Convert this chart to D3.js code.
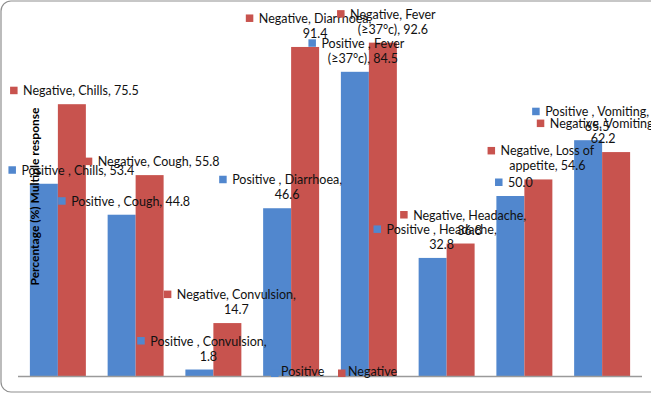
<!DOCTYPE html>
<html><head><meta charset="utf-8">
<script src="https://cdn.jsdelivr.net/npm/d3@7"></script>
<style>body{margin:0;background:#fff}svg{display:block}text{font-family:Lato,"Liberation Sans",sans-serif}</style>
</head><body>
<script>
// ---- data ----
const categories = ["Chills","Cough","Convulsion","Diarrhoea","Fever (≥37°c)","Headache","Loss of appetite","Vomiting"];
const seriesNames = ["Positive","Negative"];
const positive = [53.4,44.8,1.8,46.6,84.5,32.8,50.0,65.5];
const negative = [75.5,55.8,14.7,91.4,92.6,36.8,54.6,62.2];
const yTitle = "Percentage (%) Multiple response";
// label line-break after this text ("" = single line, "#" = value only)
const posBreaks = ["","","Convulsion,","Diarrhoea,","Fever","Headache,","#","Vomiting,"];
const negBreaks = ["","","Convulsion,","Diarrhoea,","Fever","Headache,","Loss of","Vomiting,"];
// label offsets (px) relative to bar centre
const posShift = [34,9,9,10,8,9,10,9];
const negShift = [9,9,9,10,10,9,9,-13];

const colors = {Positive:"#5187CE", Negative:"#C8534E"};
const W=651,H=396;
const svg=d3.select("body").append("svg").attr("width",W).attr("height",H);

// outer border
svg.append("rect").attr("x",1).attr("y",1).attr("width",670).attr("height",391)
  .attr("rx",10).attr("fill","#fff").attr("stroke","#8f8f8f").attr("stroke-width",1.2);

const x=d3.scaleBand().domain(categories).range([19,641]).paddingInner(0.28).paddingOuter(0.14);
const xs=d3.scaleBand().domain(seriesNames).range([0,x.bandwidth()]);
const y=d3.scaleLinear().domain([0,100]).range([376,16]);

const rows=[];
categories.forEach((c,i)=>{
  rows.push({s:"Positive",c,i,v:positive[i],brk:posBreaks[i],shift:posShift[i]});
  rows.push({s:"Negative",c,i,v:negative[i],brk:negBreaks[i],shift:negShift[i]});
});

svg.append("g").selectAll("rect").data(rows).join("rect")
  .attr("x",d=>x(d.c)+xs(d.s)).attr("width",xs.bandwidth())
  .attr("y",d=>y(d.v)).attr("height",d=>y(0)-y(d.v))
  .attr("fill",d=>colors[d.s]);

// x axis line
const xAxis=d3.axisBottom(x).tickSize(0).tickFormat("");
const ax=svg.append("g").attr("transform",`translate(0,${y(0)+0.5})`).call(xAxis);
ax.select(".domain").attr("stroke","#9a9a9a").attr("stroke-width",1.5).attr("d","M18,0H642");

// y title
svg.append("text").attr("transform",`translate(38.5,196.5) rotate(-90)`)
  .attr("text-anchor","middle").attr("font-weight","bold").attr("font-size",12)
  .attr("fill","#000").text(yTitle);

// data labels
const lab=svg.append("g").attr("font-size",12.5).attr("fill","#111");
rows.forEach(d=>{
  const name = d.s==="Positive" ? "Positive " : "Negative";
  const val = d.v.toFixed(1);
  const full = `${name}, ${d.c}, ${val}`;
  let lines;
  if(d.brk==="#") lines=[val];
  else if(d.brk==="") lines=[full];
  else { const k=full.indexOf(d.brk)+d.brk.length; lines=[full.slice(0,k).trim(), full.slice(k).trim()]; }
  const cx = x(d.c)+xs(d.s)+xs.bandwidth()/2 + d.shift;
  const lastBase = y(d.v) - 9;
  const firstBase = lastBase - 15*(lines.length-1);
  const g=lab.append("g");
  let maxW=0;
  lines.forEach((t,j)=>{
    const tx=g.append("text").attr("x",cx).attr("y",firstBase+15*j).attr("text-anchor","middle").text(t);
    maxW=Math.max(maxW,tx.node().getComputedTextLength());
  });
  g.insert("rect","text").attr("x",cx-maxW/2-13).attr("y",firstBase-8.5).attr("width",7.5).attr("height",7.5)
    .attr("fill",colors[d.s]);
});

// legend
const leg=svg.append("g").attr("font-size",12.5).attr("fill","#111");
seriesNames.forEach((s,k)=>{
  const lx=271+k*67;
  leg.append("rect").attr("x",lx).attr("y",369.5).attr("width",7.5).attr("height",7.5).attr("fill",colors[s]);
  leg.append("text").attr("x",lx+10).attr("y",376).text(s);
});
</script>
</body></html>
